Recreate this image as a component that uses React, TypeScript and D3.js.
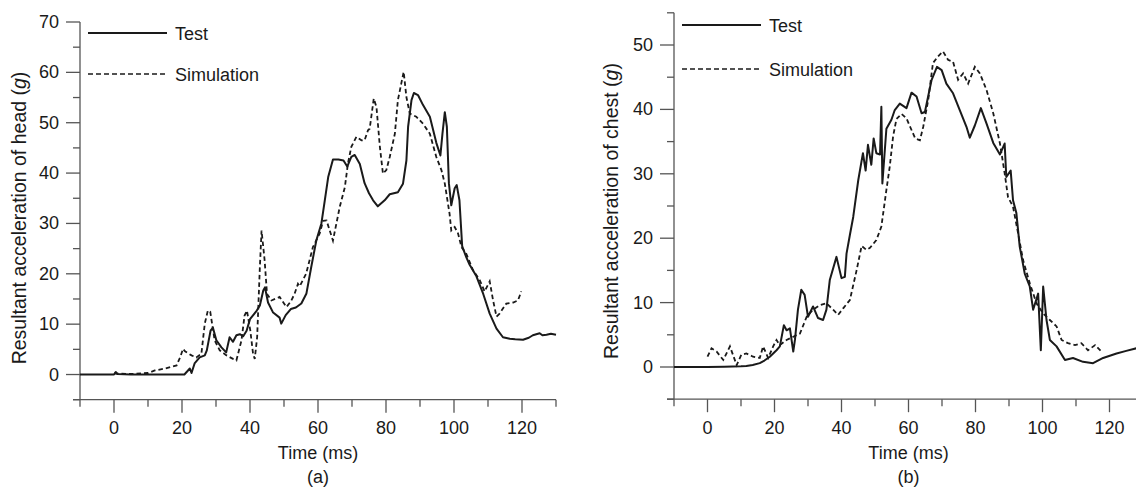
import React from 'react';
import * as d3 from 'd3';

// (a) head acceleration, g vs ms
const headTestT = [-10, -5, 0, 0.5, 1, 5, 10, 15, 20, 20.7, 22.3, 22.8, 23.7, 25.2, 26.7, 27.3, 28.4, 29.1, 30.1, 31.6, 33, 34, 35, 36, 37, 38, 39, 40, 42, 42.9, 43.9, 44.4, 45.3, 46.8, 48.7, 49.2, 50.5, 52, 53.5, 55.1, 56.6, 58, 59.5, 61, 62, 63, 64.4, 66, 67.5, 68.6, 69.8, 70.8, 72.3, 73.7, 75, 76.2, 77.6, 79.6, 81.1, 83.5, 85, 86, 86.5, 87.5, 88.2, 89.4, 90.9, 92.9, 94.8, 96, 96.6, 97.3, 97.9, 98.5, 99.2, 100.2, 100.8, 101.6, 102.4, 103.6, 104.6, 106.6, 108.6, 110.5, 112.5, 114.4, 116.4, 118, 120.3, 122, 123.2, 125.2, 126, 127.2, 128.5, 130];
const headTestV = [0, 0, 0, 0.5, 0.1, 0, 0, 0, 0, 0, 1.2, 0.3, 2.2, 3.4, 3.8, 4.8, 8.7, 9.3, 6.8, 5.4, 4.4, 7.4, 6.5, 7.8, 8, 7.6, 8.7, 11, 12.7, 13.7, 16.7, 17.3, 14.3, 12.3, 11.3, 10.1, 11.8, 13, 13.3, 14.1, 16.1, 21.3, 26.6, 30, 34.6, 39.2, 42.7, 42.7, 42.5, 41.3, 43.2, 43.6, 41.8, 38, 36, 34.6, 33.4, 34.6, 35.8, 36.2, 37.9, 42.5, 49.2, 54.5, 55.9, 55.5, 53.5, 51.2, 46, 43.5, 47.8, 52.1, 49.2, 38, 33.6, 37, 37.6, 34.6, 25.5, 23.3, 21.8, 19.5, 16, 12.1, 9.1, 7.4, 7.1, 7, 6.9, 7.3, 7.8, 8.2, 7.8, 7.9, 8.1, 7.9];
const headSimT = [0, 5, 10, 12, 15, 18.4, 19.5, 20.3, 20.9, 22.8, 24.2, 25.7, 26.7, 27.6, 28.3, 29.6, 31.1, 33.1, 35, 36, 37.5, 38.4, 39.1, 40.1, 40.9, 41.4, 42.1, 42.9, 43.4, 44.3, 45, 46.3, 48.7, 50.7, 52, 53.1, 54.1, 54.6, 56.5, 58.5, 60.5, 61.5, 62.5, 63.5, 64.4, 66.4, 67.9, 68.8, 69.8, 71.3, 72.8, 73.7, 74.7, 75.2, 76.4, 77.2, 78.2, 79.1, 80.1, 81.1, 82.6, 83.5, 84.5, 85.2, 86, 87, 88.9, 90.9, 92.9, 94.8, 96.3, 97.3, 98.7, 99.2, 100.2, 101.2, 102.2, 103.6, 105.6, 107.6, 109, 110.5, 111.5, 112.5, 113.4, 115.4, 117.4, 118.8, 119.8];
const headSimV = [0.2, 0.1, 0.3, 0.8, 1.2, 1.8, 3.5, 5.1, 4.6, 3.8, 3.4, 4.1, 10.1, 12.7, 12.5, 6.8, 4.8, 3.8, 3.1, 2.8, 6.8, 11.7, 12.7, 8.7, 4.1, 3.1, 7.4, 21.3, 28.6, 22.7, 16, 14.7, 15.4, 13.4, 14.5, 16, 18, 17.5, 20, 25.3, 28, 30.5, 30.6, 28.5, 26.6, 33.3, 37.2, 41.9, 45.2, 47.2, 46.5, 46.5, 48.5, 48.8, 54.8, 53.1, 45.2, 39.9, 40.6, 43.2, 47.8, 54.5, 57.8, 60.1, 55.1, 51.8, 51.2, 49.8, 47.8, 43.2, 40.6, 37.9, 31.9, 28.6, 29.3, 28, 25.3, 24, 20.7, 18.7, 16.5, 18.5, 14.7, 11.5, 12.1, 14.1, 14.3, 14.7, 16.5];

// (b) chest acceleration
const chestTestT = [-10, 0, 5, 10, 11.6, 13.5, 15.6, 17, 18.6, 20.6, 21.6, 22.8, 23.6, 24.6, 25.6, 26.1, 27, 28, 29, 30, 31.5, 33, 34.5, 35.5, 36.5, 38.5, 40, 41, 41.5, 42.5, 43.5, 45, 46.4, 47.2, 47.9, 48.9, 49.6, 50.4, 51.5, 51.9, 52.2, 53.4, 54.9, 55.9, 57.4, 59.4, 60.9, 62.4, 63.9, 64.9, 66.9, 68.5, 69.9, 71.3, 73.3, 75.3, 77.3, 78.3, 79.8, 81.6, 83.3, 85.3, 87.3, 88.7, 89.2, 90.5, 91.2, 92.2, 93.2, 94.7, 96.2, 97.2, 98.7, 99.5, 100.2, 101.2, 102.2, 104.2, 106.7, 109.1, 112.1, 115.1, 118.1, 122.1, 125, 128, 130];
const chestTestV = [0, 0, 0.05, 0.1, 0.15, 0.3, 0.6, 1, 1.6, 2.6, 3.2, 6.5, 5.7, 6, 2.4, 4.2, 8.9, 12, 11.2, 7.8, 9.4, 7.6, 7.3, 8.9, 13.5, 17.1, 13.8, 14, 17.6, 20.5, 23.3, 29, 33.2, 30.5, 34.5, 31.4, 35.5, 33.2, 33, 40.4, 28.5, 37, 38.4, 39.9, 40.9, 40.2, 42.6, 42, 39.4, 39.6, 44.6, 46.6, 46.1, 44, 42.5, 39.9, 37.3, 35.6, 37.5, 40.2, 37.8, 34.8, 33, 34.7, 29.5, 30.5, 25.9, 23.9, 18.7, 14.5, 12.5, 8.9, 11.4, 2.6, 12.5, 7.3, 4.2, 3.2, 1.1, 1.4, 0.8, 0.6, 1.4, 2.1, 2.5, 2.9, 3];
const chestSimT = [0, 1.2, 2.7, 4.7, 6.7, 8.7, 10.1, 11.6, 13.6, 15.6, 16.6, 18.1, 19.6, 20.6, 21.6, 23.6, 25.6, 27.6, 29.6, 31.5, 33.5, 35.5, 37.5, 39, 40.5, 42.5, 44.5, 46, 47.4, 48.5, 50.4, 51.9, 53.4, 54.4, 55.4, 56.4, 57.9, 59.4, 60.9, 62, 63.4, 64.4, 65.9, 67.3, 68.8, 70.3, 71.8, 73.3, 74.8, 76.3, 77.8, 79.8, 81.3, 83.3, 85.3, 87.3, 88.7, 89.7, 91.2, 92.7, 94.2, 96.2, 98.2, 100.2, 102.2, 104.2, 105.7, 107.6, 109.7, 111.6, 113.6, 115.7, 117.6];
const chestSimV = [1.6, 2.9, 2.4, 1.1, 3.2, 0.3, 1.9, 2.1, 1.6, 1.4, 3.2, 1.4, 3.2, 4.2, 3.4, 4.2, 4.7, 5.2, 7.8, 8.9, 9.6, 9.9, 8.9, 8.1, 9.1, 10.4, 15, 18.8, 18.2, 18.5, 19.7, 21.8, 27.5, 31.1, 35.8, 38.5, 39.3, 38.6, 36.8, 35.5, 35.2, 37.3, 41.5, 47.2, 48.2, 49, 47.7, 47.4, 44.6, 45.6, 44, 46.6, 45.6, 43, 39.4, 34.7, 30.1, 26.4, 24.9, 20.8, 16.6, 13, 9.9, 8.3, 7.3, 6.3, 4.2, 3.7, 3.4, 3.7, 2.6, 3.4, 2.4];

const FONT = '"Liberation Sans", Arial, sans-serif';
const AXIS = '#555';
const INK = '#1a1a1a';

type PanelProps = {
  x0: number; x1: number; yTop: number; yBot: number;
  yMax: number; yTicks: number[]; xTicks: number[];
  title: string; tag: string; titleX: number; titleY: number;
  legendY: [number, number];
  testT: number[]; testV: number[]; simT: number[]; simV: number[];
};

const Panel = (p: PanelProps) => {
  const x = d3.scaleLinear().domain([-10, 130]).range([p.x0, p.x1]);
  const y = d3.scaleLinear().domain([-5, p.yMax]).range([p.yBot, p.yTop]);
  const line = d3.line<[number, number]>().x(d => x(d[0])).y(d => y(d[1]));
  const test = line(p.testT.map((t, i) => [t, p.testV[i]]));
  const sim = line(p.simT.map((t, i) => [t, p.simV[i]]));
  const yMinor = d3.range(-5, p.yMax + 0.1, 10);
  const xMinor = d3.range(-10, 131, 20);
  const ax = p.x0;
  const lx = ax + 8;
  const [ly1, ly2] = p.legendY;

  return (
    <g fontFamily={FONT} fill={INK}>
      {/* axes */}
      <line x1={ax} x2={ax} y1={p.yTop} y2={p.yBot} stroke={AXIS} strokeWidth={1.3} />
      <line x1={ax - 7} x2={x(130)} y1={p.yBot} y2={p.yBot} stroke={AXIS} strokeWidth={1.3} />
      {p.yTicks.map(v => (
        <g key={'y' + v}>
          <line x1={ax - 14} x2={ax} y1={y(v)} y2={y(v)} stroke={AXIS} strokeWidth={1.3} />
          <text x={ax - 21} y={y(v)} textAnchor="end" dominantBaseline="central" fontSize={18}>{v}</text>
        </g>
      ))}
      {yMinor.map(v => (
        <line key={'ym' + v} x1={ax - 7} x2={ax} y1={y(v)} y2={y(v)} stroke={AXIS} strokeWidth={1.3} />
      ))}
      {p.xTicks.map(t => (
        <g key={'x' + t}>
          <line x1={x(t)} x2={x(t)} y1={p.yBot} y2={p.yBot + 13} stroke={AXIS} strokeWidth={1.3} />
          <text x={x(t)} y={433.5} textAnchor="middle" fontSize={18}>{t}</text>
        </g>
      ))}
      {xMinor.map(t => (
        <line key={'xm' + t} x1={x(t)} x2={x(t)} y1={p.yBot} y2={p.yBot + 7} stroke={AXIS} strokeWidth={1.3} />
      ))}
      <text x={x(60)} y={458.5} textAnchor="middle" fontSize={18}>Time (ms)</text>
      <text x={x(60)} y={482.5} textAnchor="middle" fontSize={18}>{p.tag}</text>
      <text transform={`translate(${p.titleX},${p.titleY}) rotate(-90)`} textAnchor="middle"
        dominantBaseline="central" fontSize={19.5}>
        {p.title} (<tspan fontStyle="italic">g</tspan>)
      </text>

      {/* curves */}
      <path d={sim ?? ''} fill="none" stroke={INK} strokeWidth={1.8} strokeDasharray="4.5,3" />
      <path d={test ?? ''} fill="none" stroke={INK} strokeWidth={2} strokeLinejoin="round" />

      {/* legend */}
      <line x1={lx} x2={lx + 79} y1={ly1} y2={ly1} stroke={INK} strokeWidth={2} />
      <text x={lx + 87} y={ly1 + 6.5} fontSize={18}>Test</text>
      <line x1={lx} x2={lx + 79} y1={ly2} y2={ly2} stroke={INK} strokeWidth={1.6} strokeDasharray="5,3" />
      <text x={lx + 87} y={ly2 + 6.5} fontSize={18}>Simulation</text>
    </g>
  );
};

export default function App() {
  return (
    <svg width={1136} height={488} style={{ position: 'absolute', left: 0, top: 0, background: '#fff' }}>
      <rect width={1136} height={488} fill="#fff" />
      <Panel x0={80} x1={556} yTop={22} yBot={399.7} yMax={70}
        yTicks={[0, 10, 20, 30, 40, 50, 60, 70]} xTicks={[0, 20, 40, 60, 80, 100, 120]}
        title="Resultant acceleration of head" tag="(a)" titleX={19} titleY={218} legendY={[33, 74]}
        testT={headTestT} testV={headTestV} simT={headSimT} simV={headSimV} />
      <Panel x0={674} x1={1143} yTop={12.8} yBot={399.2} yMax={55}
        yTicks={[0, 10, 20, 30, 40, 50]} xTicks={[0, 20, 40, 60, 80, 100, 120]}
        title="Resultant acceleration of chest" tag="(b)" titleX={611} titleY={211} legendY={[25, 69]}
        testT={chestTestT} testV={chestTestV} simT={chestSimT} simV={chestSimV} />
    </svg>
  );
}
